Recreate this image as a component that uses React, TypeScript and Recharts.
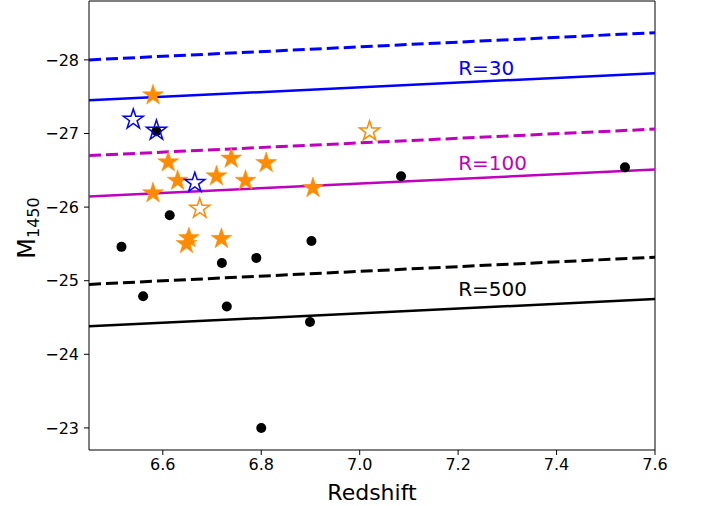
import { ScatterChart, Scatter, XAxis, YAxis, ReferenceLine } from 'recharts';

// quasars with measured values
const blackZ = [6.516, 6.614, 6.587, 6.902, 7.084, 7.539, 6.56, 6.72, 6.79, 6.73, 6.899, 6.8];
const blackM = [-25.46, -25.89, -27.03, -25.54, -26.42, -26.54, -24.79, -25.24, -25.31, -24.65, -24.44, -23.0];

const orangeZ = [6.58, 6.611, 6.63, 6.58, 6.739, 6.709, 6.768, 6.81, 6.905, 6.653, 6.648, 6.719];
const orangeM = [-27.52, -26.61, -26.36, -26.19, -26.66, -26.42, -26.36, -26.6, -26.26, -25.58, -25.5, -25.57];

const openOrangeZ = [6.675, 7.02];
const openOrangeM = [-25.98, -27.03];

const openBlueZ = [6.54, 6.587, 6.665];
const openBlueM = [-27.19, -27.04, -26.33];

// resolution limits, evaluated at the two ends of the axis
const lineZ = [6.45, 7.6];
const r30Dashed = [-28.0, -28.37];
const r30 = [-27.45, -27.82];
const r100Dashed = [-26.7, -27.06];
const r100 = [-26.145, -26.51];
const r500Dashed = [-24.95, -25.32];
const r500 = [-24.38, -24.75];

const labelText = ['R=30', 'R=100', 'R=500'];
const labelZ = [7.2, 7.2, 7.2];
const labelM = [-27.895, -26.6, -24.887];
const labelColor = ['#0000ff', '#bf00bf', '#000000'];

const xTicks = [6.6, 6.8, 7.0, 7.2, 7.4, 7.6];
const yTicks = [-28, -27, -26, -25, -24, -23];

const FONT = '"DejaVu Sans", sans-serif';

const zip = (zs: number[], ms: number[]) => zs.map((z, i) => ({ z, m: ms[i] }));

const starPath = (cx: number, cy: number, r: number) => {
  const inner = r * 0.381966;
  let d = '';
  for (let i = 0; i < 10; i++) {
    const rad = i % 2 === 0 ? r : inner;
    const a = -Math.PI / 2 + (i * Math.PI) / 5;
    d += `${i === 0 ? 'M' : 'L'}${cx + rad * Math.cos(a)},${cy + rad * Math.sin(a)}`;
  }
  return d + 'Z';
};

const FilledStar = (props: any) => (
  <path d={starPath(props.cx, props.cy, 11)} fill="#ff8c00" stroke="#ff8c00" strokeWidth={0.5} />
);

const makeOpenStar = (color: string) => (props: any) => (
  <path d={starPath(props.cx, props.cy, 10.5)} fill="none" stroke={color} strokeWidth={1.5} />
);

const Dot = (props: any) => <circle cx={props.cx} cy={props.cy} r={5} fill="#000" />;

const Nothing = () => <g />;

const lineSeries = [
  { vals: r30Dashed, color: '#0000ff', dash: '12 5' },
  { vals: r30, color: '#0000ff', dash: undefined },
  { vals: r100Dashed, color: '#bf00bf', dash: '12 5' },
  { vals: r100, color: '#bf00bf', dash: undefined },
  { vals: r500Dashed, color: '#000000', dash: '12 5' },
  { vals: r500, color: '#000000', dash: undefined },
];

const labelData = labelText.map((t, i) => ({ z: labelZ[i], m: labelM[i], t, c: labelColor[i] }));

const LabelShape = (props: any) => (
  <text
    x={props.cx}
    y={props.cy + 7}
    fill={props.payload.c}
    fontSize={20}
    fontFamily={FONT}
    textAnchor="start"
  >
    {props.payload.t}
  </text>
);

const fmt = (v: number) => String(v).replace('-', '\u2212');

const YLabel = () => (
  <text
    x={35}
    y={228}
    transform="rotate(-90, 35, 228)"
    textAnchor="middle"
    fontSize={24}
    fontFamily={FONT}
    fill="#000"
  >
    M
    <tspan fontSize={16} dy={4}>
      1450
    </tspan>
  </text>
);

export default function App() {
  return (
    <div style={{ position: 'absolute', left: 0, top: 0, background: '#fff' }}>
      <ScatterChart width={701} height={506} margin={{ top: 1, right: 46, bottom: 0, left: 0 }}>
        <XAxis
          type="number"
          dataKey="z"
          domain={[6.45, 7.6]}
          ticks={xTicks}
          allowDataOverflow
          tickFormatter={(v: number) => v.toFixed(1)}
          tick={{ fontSize: 16, fill: '#000', fontFamily: FONT }}
          tickSize={5}
          tickMargin={4}
          stroke="#000"
          height={56}
          label={{ value: 'Redshift', position: 'insideBottom', offset: 6, fontSize: 22, fill: '#000', fontFamily: FONT }}
        />
        <YAxis
          type="number"
          dataKey="m"
          domain={[-28.8, -22.7]}
          reversed
          ticks={yTicks}
          allowDataOverflow
          tickFormatter={fmt}
          tick={{ fontSize: 16, fill: '#000', fontFamily: FONT }}
          tickSize={5}
          tickMargin={5}
          stroke="#000"
          width={89}
          label={{ content: () => <YLabel /> }}
        />
        <ReferenceLine x={7.6} stroke="#000" strokeWidth={1} />
        <ReferenceLine y={-28.8} stroke="#000" strokeWidth={1} />
        {lineSeries.map((s, i) => (
          <Scatter
            key={`line-${i}`}
            data={zip(lineZ, s.vals)}
            shape={Nothing}
            stroke={s.color}
            line={{ stroke: s.color, strokeWidth: s.dash ? 3 : 2.5, strokeDasharray: s.dash }}
            isAnimationActive={false}
          />
        ))}
        <Scatter data={labelData} shape={LabelShape} isAnimationActive={false} />
        <Scatter data={zip(blackZ, blackM)} shape={Dot} isAnimationActive={false} />
        <Scatter data={zip(orangeZ, orangeM)} shape={FilledStar} isAnimationActive={false} />
        <Scatter data={zip(openOrangeZ, openOrangeM)} shape={makeOpenStar('#ff8c00')} isAnimationActive={false} />
        <Scatter data={zip(openBlueZ, openBlueM)} shape={makeOpenStar('#0000ff')} isAnimationActive={false} />
      </ScatterChart>
    </div>
  );
}
